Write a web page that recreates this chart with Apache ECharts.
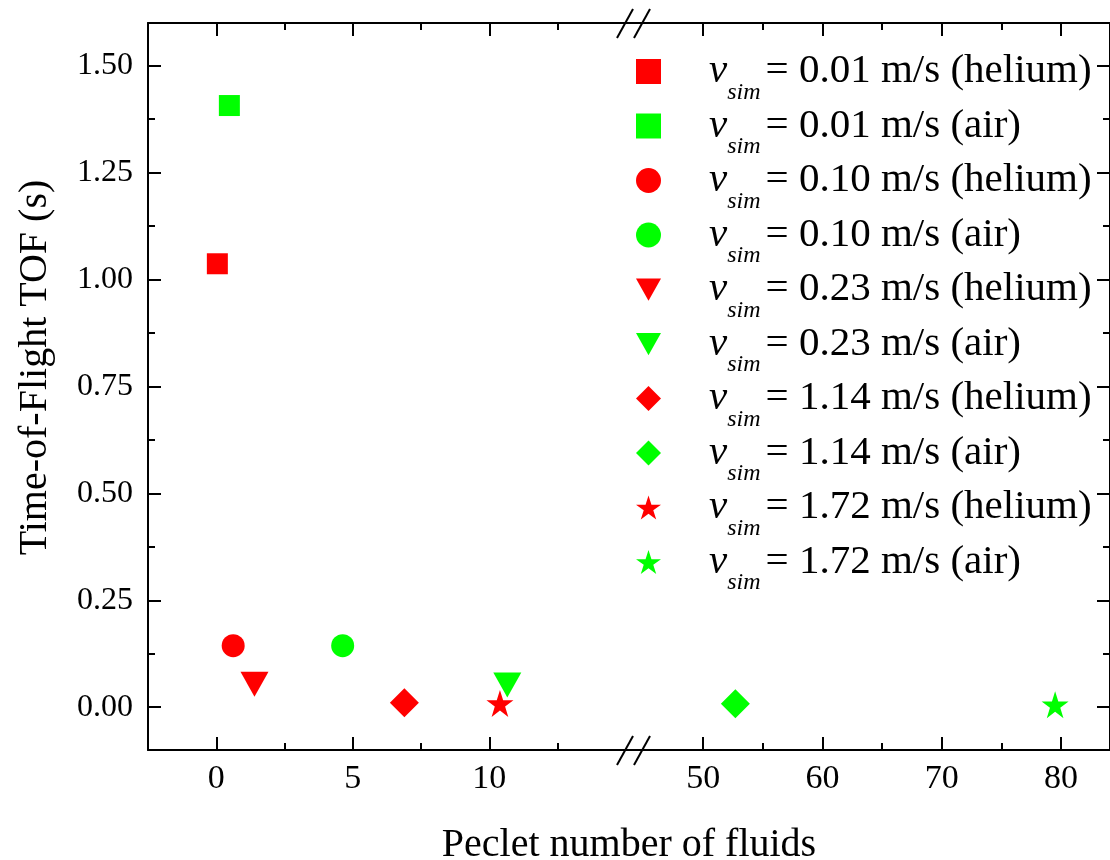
<!DOCTYPE html>
<html><head><meta charset="utf-8">
<script src="https://cdn.jsdelivr.net/npm/echarts@6/dist/echarts.min.js"></script>
<style>html,body{margin:0;padding:0;background:#fff}#c{width:1110px;height:860px}</style>
</head><body><div id="c"></div>
<script>
// ---- data ----
const seriesLabels = ['0.01 m/s (helium)', '0.01 m/s (air)', '0.10 m/s (helium)', '0.10 m/s (air)',
  '0.23 m/s (helium)', '0.23 m/s (air)', '1.14 m/s (helium)', '1.14 m/s (air)',
  '1.72 m/s (helium)', '1.72 m/s (air)'];
const pecletValues = [0.04, 0.48, 0.62, 4.63, 1.40, 10.66, 6.89, 52.7, 10.39, 79.5];
const tofValues = [1.037, 1.407, 0.144, 0.144, 0.054, 0.052, 0.0105, 0.008, 0.009, 0.006];
const xLeftMajor = [0, 5, 10];
const xLeftMinor = [2.5, 7.5, 12.5];
const xRightMajor = [50, 60, 70, 80];
const xRightMinor = [55, 65, 75];
const yMajor = [0, 0.25, 0.5, 0.75, 1.0, 1.25, 1.5];
const yMinor = [0.125, 0.375, 0.625, 0.875, 1.125, 1.375];
const xLeftRange = [-2.5, 15.3];
const xRightRange = [44.2, 84.1];
const yRange = [-0.1, 1.6];
const breakValue = 30;

// ---- styles ----
const RED = '#ff0000', GREEN = '#00ff00';
const seriesColors = [RED, GREEN, RED, GREEN, RED, GREEN, RED, GREEN, RED, GREEN];
const TRI = 'path://M0,0L100,0L50,89Z';
const STAR = 'path://M50,0L61.23,34.55L97.55,34.55L68.17,55.9L79.39,90.45L50,69.1L20.61,90.45L31.83,55.9L2.45,34.55L38.77,34.55Z';
const seriesSymbols = ['rect', 'rect', 'circle', 'circle', TRI, TRI, 'diamond', 'diamond', STAR, STAR];
const seriesSymbolSizes = [21, 21, 23, 23, [28, 25], [28, 25], 29, 29, 27, 27];
const FONT = '"Liberation Serif", "Times New Roman", serif';

const G0 = {left: 148, top: 23, width: 486, height: 727, outerBoundsMode: 'none'};
const G1 = {left: 634, top: 23, right: 0, height: 727, outerBoundsMode: 'none'};
const G2 = {left: 148, top: 23, right: 0, height: 727, outerBoundsMode: 'none'};

function tickAxis(gridIndex, position, range, values, len, showLine, labels) {
  return {
    type: 'value', gridIndex, position, min: range[0], max: range[1],
    splitLine: {show: false},
    axisLine: {show: showLine, onZero: false, lineStyle: {color: '#000', width: 2}},
    axisTick: {show: true, inside: true, length: len, customValues: values, lineStyle: {color: '#000', width: 2}},
    axisLabel: labels || {show: false}
  };
}

const xAxes = [
  tickAxis(0, 'bottom', xLeftRange, xLeftMajor, 13, true,
    {show: true, customValues: xLeftMajor, margin: 12, fontFamily: FONT, fontSize: 34, color: '#000'}),
  tickAxis(0, 'bottom', xLeftRange, xLeftMinor, 7, false),
  tickAxis(0, 'top', xLeftRange, xLeftMajor, 13, true),
  tickAxis(0, 'top', xLeftRange, xLeftMinor, 7, false),
  tickAxis(1, 'bottom', xRightRange, xRightMajor, 13, true,
    {show: true, customValues: xRightMajor, margin: 12, fontFamily: FONT, fontSize: 34, color: '#000'}),
  tickAxis(1, 'bottom', xRightRange, xRightMinor, 7, false),
  tickAxis(1, 'top', xRightRange, xRightMajor, 13, true),
  tickAxis(1, 'top', xRightRange, xRightMinor, 7, false),
  {gridIndex: 2, type: 'value', min: 0, max: 1, axisLine: {show: false}, axisTick: {show: false},
   axisLabel: {show: false}, splitLine: {show: false},
   name: 'Peclet number of fluids', nameLocation: 'middle', nameGap: 75,
   nameTextStyle: {fontFamily: FONT, fontSize: 40, color: '#000'}}
];
const yLeft = tickAxis(0, 'left', yRange, yMajor, 13, true,
  {show: true, customValues: yMajor, margin: 15, fontFamily: FONT, fontSize: 32, color: '#000',
   formatter: v => v.toFixed(2)});
yLeft.name = 'Time-of-Flight TOF (s)';
yLeft.nameLocation = 'middle';
yLeft.nameGap = 93;
yLeft.nameTextStyle = {fontFamily: FONT, fontSize: 40, color: '#000', padding: [0, 0, 0, 38]};
const yAxes = [
  yLeft,
  tickAxis(0, 'left', yRange, yMinor, 7, false),
  tickAxis(1, 'right', yRange, yMajor, 13, true),
  tickAxis(1, 'right', yRange, yMinor, 7, false),
  {gridIndex: 2, type: 'value', show: false, min: 0, max: 1}
];

const series = seriesLabels.map((name, i) => {
  const right = pecletValues[i] > breakValue;
  return {
    type: 'scatter', name,
    xAxisIndex: right ? 4 : 0, yAxisIndex: right ? 2 : 0,
    symbol: seriesSymbols[i], symbolSize: seriesSymbolSizes[i], symbolKeepAspect: false,
    itemStyle: {color: seriesColors[i], opacity: 1},
    data: [[pecletValues[i], tofValues[i]]],
    z: 5
  };
});

function breakMarks(x, y) {
  const s = {stroke: '#000', lineWidth: 2};
  return [
    {type: 'line', shape: {x1: x - 17, y1: y + 15, x2: x - 1, y2: y - 14}, style: s, z: 100},
    {type: 'line', shape: {x1: x, y1: y + 15, x2: x + 16, y2: y - 14}, style: s, z: 100}
  ];
}
const bx = G1.left;
const chart = echarts.init(document.getElementById('c'), null, {renderer: 'canvas'});
chart.setOption({
  animation: false,
  backgroundColor: '#fff',
  grid: [G0, G1, G2],
  xAxis: xAxes,
  yAxis: yAxes,
  legend: {
    orient: 'vertical', left: 631, top: 46, itemWidth: 25, itemHeight: 25, itemGap: 1,
    selectedMode: false, symbolKeepAspect: true,
    data: seriesLabels,
    formatter: n => '{v|v}{s|sim}{t|= ' + n + '}',
    textStyle: {
      fontFamily: FONT, color: '#000',
      rich: {
        v: {fontFamily: FONT, fontStyle: 'italic', fontSize: 41, color: '#000', padding: [0, 0, 0, 43]},
        s: {fontFamily: FONT, fontStyle: 'italic', fontSize: 24, color: '#000', padding: [42, 0, 0, 0]},
        t: {fontFamily: FONT, fontSize: 41, color: '#000', padding: [0, 0, 0, 5]}
      }
    }
  },
  graphic: breakMarks(bx, 750).concat(breakMarks(bx, 23)),
  series
});
</script></body></html>
